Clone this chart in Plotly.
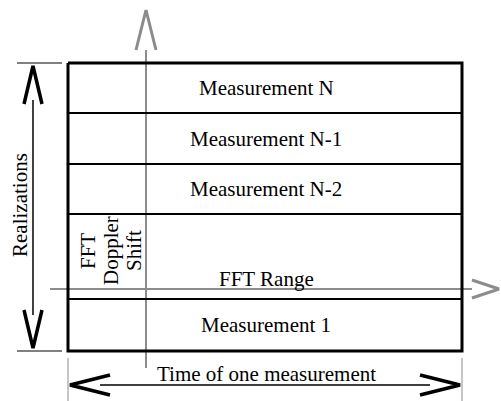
import plotly.graph_objects as go

# Diagram content
row_labels = ["Measurement N", "Measurement N-1", "Measurement N-2", "FFT Range", "Measurement 1"]
row_edges = [63, 113, 164, 214, 299, 351]          # top/bottom of each row (pixel space)
row_label_y = [88, 139, 189, 279, 325]
box_left, box_right = 68, 462
doppler_lines = ["FFT", "Doppler", "Shift"]
doppler_x = [88, 111, 134]
dim_left_label = "Realizations"
dim_bottom_label = "Time of one measurement"

FONT = "Liberation Serif, Times New Roman, serif"
BLACK = "#000000"
GRAY = "#8c8c8c"
FS = 21

fig = go.Figure()

def line(x, y, color, width):
    fig.add_trace(go.Scatter(x=x, y=y, mode="lines", line=dict(color=color, width=width),
                             hoverinfo="skip", showlegend=False))

# gray axes (drawn under the box)
line([146, 146], [50, 368], GRAY, 2)
line([136, 146, 156], [50, 10, 50], GRAY, 3)
line([50, 472], [289, 289], GRAY, 2)
line([472, 499, 472], [280, 289, 298], GRAY, 3)

# outer box
line([box_left, box_right, box_right, box_left, box_left],
     [row_edges[0], row_edges[0], row_edges[-1], row_edges[-1], row_edges[0]], BLACK, 3)
for y in row_edges[1:-1]:
    line([box_left, box_right], [y, y], BLACK, 2.2)

# left dimension
line([17, 62], [63, 63], BLACK, 1)
line([17, 62], [351, 351], BLACK, 1)
line([33, 33], [100, 315], BLACK, 1.5)
line([24, 33, 42], [104, 66, 104], BLACK, 3.5)
line([24, 33, 42], [310, 348, 310], BLACK, 3.5)

# bottom dimension
line([68, 68], [358, 401], GRAY, 1)
line([462, 462], [358, 401], GRAY, 1)
line([100, 430], [385, 385], BLACK, 1.5)
line([110, 70, 110], [375, 385, 395], BLACK, 3.5)
line([420, 460, 420], [375, 385, 395], BLACK, 3.5)

annotations = []
for lab, y in zip(row_labels, row_label_y):
    annotations.append(dict(x=266, y=y, text=lab, showarrow=False,
                            font=dict(family=FONT, size=FS, color=BLACK),
                            xanchor="center", yanchor="middle"))
for lab, x in zip(doppler_lines, doppler_x):
    annotations.append(dict(x=x, y=251, text=lab, showarrow=False, textangle=-90,
                            font=dict(family=FONT, size=FS, color=BLACK),
                            xanchor="center", yanchor="middle"))
annotations.append(dict(x=20, y=205, text=dim_left_label, showarrow=False, textangle=-90,
                        font=dict(family=FONT, size=FS, color=BLACK),
                        xanchor="center", yanchor="middle"))
annotations.append(dict(x=266, y=374, text=dim_bottom_label, showarrow=False,
                        font=dict(family=FONT, size=FS, color=BLACK),
                        xanchor="center", yanchor="middle"))

fig.update_layout(
    width=501, height=401,
    margin=dict(l=0, r=0, t=0, b=0),
    paper_bgcolor="white", plot_bgcolor="white",
    xaxis=dict(range=[0, 501], visible=False, fixedrange=True),
    yaxis=dict(range=[401, 0], visible=False, fixedrange=True),
    annotations=annotations,
)

fig.write_html("out.html", config={"displayModeBar": False},
               post_script="document.body.style.margin='0';document.body.style.overflow='hidden';")
